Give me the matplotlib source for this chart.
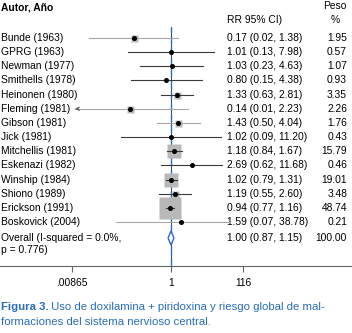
import numpy as np
import matplotlib
matplotlib.use('Agg')
import matplotlib.pyplot as plt
from matplotlib.patches import Polygon
import matplotlib.transforms as mtransforms

plt.rcParams['font.family'] = ['Liberation Sans', 'DejaVu Sans']

# Data
studies = ['Bunde (1963)', 'GPRG (1963)', 'Newman (1977)', 'Smithells (1978)',
           'Heinonen (1980)', 'Fleming (1981)', 'Gibson (1981)', 'Jick (1981)',
           'Mitchellis (1981)', 'Eskenazi (1982)', 'Winship (1984)', 'Shiono (1989)',
           'Erickson (1991)', 'Boskovick (2004)']
rr = [0.17, 1.01, 1.03, 0.80, 1.33, 0.14, 1.43, 1.02, 1.18, 2.69, 1.02, 1.19, 0.94, 1.59]
lo = [0.02, 0.13, 0.23, 0.15, 0.63, 0.01, 0.50, 0.09, 0.84, 0.62, 0.79, 0.55, 0.77, 0.07]
hi = [1.38, 7.98, 4.63, 4.38, 2.81, 2.23, 4.04, 11.20, 1.67, 11.68, 1.31, 2.60, 1.16, 38.78]
weight = [1.95, 0.57, 1.07, 0.93, 3.35, 2.26, 1.76, 0.43, 15.79, 0.46, 19.01, 3.48, 48.74, 0.21]
overall = (1.00, 0.87, 1.15)
overall_weight = 100.00
overall_lbl = ['Overall (I-squared = 0.0%,', 'p = 0.776)']
tick_labels = ['.00865', '1', '116']
caption_bold = 'Figura 3.'
caption_1 = ' Uso de doxilamina + piridoxina y riesgo global de mal-'
caption_2 = 'formaciones del sistema nervioso central.'

W, H = 352, 333
fig = plt.figure(figsize=(W / 100, H / 100), dpi=100)

def fy(p):  # pixel from top -> figure fraction
    return 1 - p / H

# axes: full width, from top of ref line (27px) to axis line (266px)
ax = fig.add_axes([0, fy(266), 1, (266 - 27) / H])
ax.set_xscale('log')
ppd = 48.0  # pixels per decade
ax.set_xlim(10 ** (-171 / ppd), 10 ** ((W - 171) / ppd))
row_px = 184 / 13.0
ax.set_ylim((266 - 38) / row_px, (27 - 38) / row_px)

n = len(studies)
ys = np.arange(n)
y_over = (238 - 38) / row_px
fs = 7.4

xmin_clip = 0.00865
xmax_clip = 10 ** ((229 - 171) / ppd)
light = {'Bunde (1963)', 'Fleming (1981)', 'Gibson (1981)', 'Boskovick (2004)'}

# reference lines
ax.axvline(1, color='#222222', lw=0.6, zorder=1)
ax.axvline(overall[0], color='#2b6cc4', lw=1.0, ls=(0, (6, 2)), zorder=2)

side_max = 23  # px side of the largest box
for i in range(n):
    side = max(side_max * np.sqrt(weight[i] / max(weight)), 7) if weight[i] > 1.5 else 0
    if side > 0:
        ax.plot(rr[i], ys[i], marker='s', ms=side * 0.72, color='#b8b8b8', mec='none', zorder=3)
    a = max(lo[i], xmin_clip)
    b = min(hi[i], xmax_clip)
    col = '#a8a8a8' if studies[i] in light else '#3a3a3a'
    ax.plot([a, b], [ys[i], ys[i]], color=col, lw=0.8, zorder=4)
    if lo[i] <= xmin_clip * 1.2:
        ax.annotate('', xy=(a, ys[i]), xytext=(a * 1.2, ys[i]),
                    arrowprops=dict(arrowstyle='->', color='#555555', lw=0.7,
                                    mutation_scale=6, shrinkA=0, shrinkB=0), zorder=4)
    ax.plot(rr[i], ys[i], 'o', ms=2.6, color='black', zorder=5)

# overall diamond
est, olo, ohi = overall
dia = Polygon([[olo, y_over], [est, y_over - 0.5], [ohi, y_over], [est, y_over + 0.5]],
              closed=True, facecolor='white', edgecolor='#2b6cc4', lw=1.0, zorder=6)
ax.add_patch(dia)

for s in ['top', 'left', 'right']:
    ax.spines[s].set_visible(False)
ax.spines['bottom'].set_color('#666666')
ax.spines['bottom'].set_linewidth(0.8)
ax.set_yticks([])
# the reference draws the "116" tick at ~243px, not at the true log position
ax.set_xticks([0.00865, 1, 10 ** ((243 - 171) / ppd)])
ax.set_xticklabels(tick_labels, fontsize=fs)
ax.xaxis.set_minor_locator(matplotlib.ticker.NullLocator())
ax.tick_params(axis='x', direction='out', length=4, width=0.8, color='#666666', pad=5)

# text columns
tr = mtransforms.blended_transform_factory(fig.transFigure, ax.transData)
for i in range(n):
    ax.text(1 / W, ys[i], studies[i], transform=tr, fontsize=fs, va='center', ha='left')
    ax.text(227 / W, ys[i], '%.2f (%.2f, %.2f)' % (rr[i], lo[i], hi[i]),
            transform=tr, fontsize=fs, va='center', ha='left')
    ax.text(347 / W, ys[i], '%.2f' % weight[i], transform=tr, fontsize=fs, va='center', ha='right')
ax.text(1 / W, y_over, overall_lbl[0], transform=tr, fontsize=fs, va='center', ha='left')
ax.text(1 / W, y_over + 12 / row_px, overall_lbl[1], transform=tr, fontsize=fs, va='center', ha='left')
ax.text(227 / W, y_over, '%.2f (%.2f, %.2f)' % overall, transform=tr, fontsize=fs, va='center', ha='left')
ax.text(347 / W, y_over, '%.2f' % overall_weight, transform=tr, fontsize=fs, va='center', ha='right')

# headers
fig.text(1 / W, fy(8), 'Autor, Año', fontsize=fs, fontweight='bold', va='center', ha='left')
fig.text(227 / W, fy(20), 'RR 95% CI)', fontsize=fs, va='center', ha='left')
fig.text(335 / W, fy(6), 'Peso', fontsize=fs, va='center', ha='center')
fig.text(335 / W, fy(20), '%', fontsize=fs, va='center', ha='center')

# caption
cap_col = '#2a6db5'
t1 = fig.text(1 / W, fy(307), caption_bold, fontsize=8.2, fontweight='bold', color=cap_col,
              va='center', ha='left')
fig.canvas.draw()
bb = t1.get_window_extent()
fig.text(bb.x1 / W, fy(307), caption_1, fontsize=8.2, color=cap_col, va='center', ha='left')
fig.text(1 / W, fy(322), caption_2, fontsize=8.2, color=cap_col, va='center', ha='left')

fig.savefig('out.png', dpi=100)
